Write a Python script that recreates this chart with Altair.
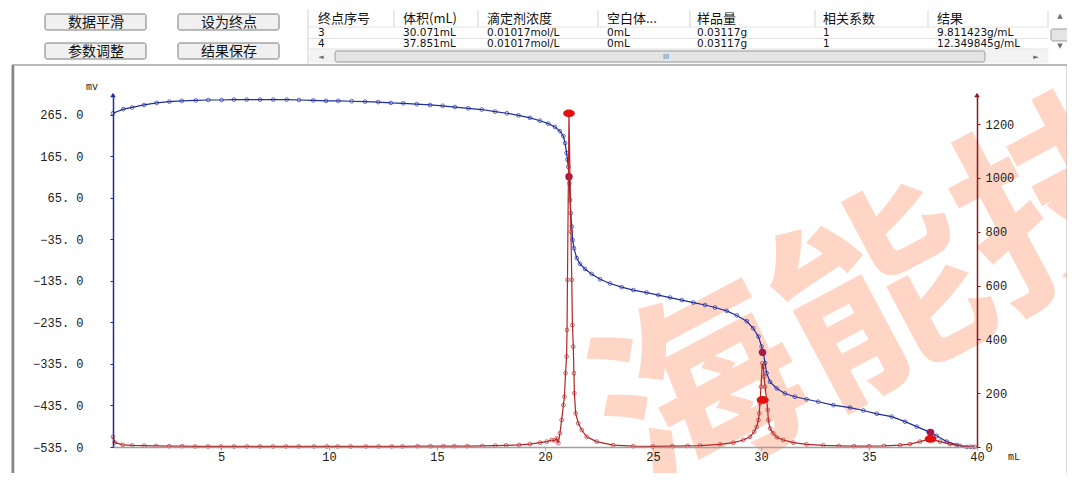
import altair as alt
import pandas as pd

# ---------------- data ----------------
blue_ml = [0.0, 0.48, 0.89, 1.44, 2.02, 2.61, 3.18, 3.83, 4.41, 5.03, 5.6, 6.19, 6.81, 7.42, 8.04,
           8.61, 9.27, 9.86, 10.43, 11.05, 11.67, 12.28, 12.86, 13.44, 14.06, 14.68, 15.26, 15.83,
           16.45, 17.07, 17.69, 18.23, 18.77, 19.31, 19.77, 20.15, 20.46, 20.69, 20.85, 20.93, 21.0,
           21.04, 21.08, 21.13, 21.16, 21.19, 21.24, 21.28, 21.34, 21.47, 21.62, 21.85, 22.16, 22.55,
           23.01, 23.55, 24.09, 24.7, 25.25, 25.79, 26.33, 26.87, 27.41, 27.87, 28.41, 28.88, 29.34,
           29.64, 29.88, 30.03, 30.11, 30.19, 30.26, 30.42, 30.73, 31.11, 31.57, 32.11, 32.65, 33.35,
           34.12, 34.74, 35.36, 36.05, 36.67, 37.21, 37.75, 38.13, 38.6, 39.06, 39.52, 39.8]
blue_mv = [269, 279, 283, 289, 294, 297, 299, 300, 301, 301, 302, 302, 302, 302, 302,
           301, 300, 299, 299, 298, 297, 296, 294, 293, 291, 289, 287, 284,
           281, 278, 273, 269, 264, 258, 251, 244, 236, 226, 214, 197, 173,
           157, 140, 100, 60, 28, -4, -36, -56, -80, -94, -106, -118, -131,
           -141, -150, -157, -163, -169, -175, -181, -187, -193, -199, -207, -218, -232,
           -249, -269, -293, -309, -333, -357, -378, -394, -406, -414, -420, -426, -434,
           -440, -447, -455, -462, -474, -486, -498, -508, -522, -530, -535, -535]

red_ml = [0.0, 0.08, 0.45, 0.9, 1.45, 2.0, 2.6, 3.2, 3.8, 4.4, 5.0, 5.6, 6.2, 6.8, 7.4, 8.0, 8.6,
          9.3, 9.9, 10.4, 11.0, 11.7, 12.3, 12.9, 13.4, 14.1, 14.7, 15.3, 15.8, 16.4, 17.1, 17.7,
          18.2, 18.8, 19.3, 19.77, 20.08, 20.31, 20.45, 20.54, 20.62, 20.69, 20.77, 20.85, 20.9,
          20.95, 21.0, 21.02, 21.04, 21.11, 21.2, 21.24, 21.27, 21.31, 21.34, 21.36, 21.42, 21.54,
          21.7, 21.93, 22.39, 23.16, 24.09, 25.0, 25.9, 26.6, 27.18, 28.1, 28.72, 29.18, 29.49,
          29.69, 29.8, 29.88, 29.92, 29.95, 30.0, 30.06, 30.11, 30.14, 30.19, 30.26, 30.31, 30.34,
          30.42, 30.57, 30.73, 31.03, 31.5, 32.11, 32.89, 33.6, 34.3, 35.0, 35.7, 36.44, 36.9,
          37.36, 37.82, 38.29, 38.75, 39.21, 39.68, 39.9]
red_val = [38, 17, 8, 6, 5, 4, 3, 3, 2, 2, 2, 2, 2, 2, 2, 2, 2,
           2, 2, 2, 2, 2, 2, 2, 2, 3, 3, 3, 3, 3, 4, 5,
           6, 8, 11, 16, 20, 26, 24, 32, 14, 51, 100, 156, 187,
           274, 336, 435, 621, 1240, 800, 621, 453, 373, 274, 200, 125, 88,
           63, 38, 20, 7, 3, 2, 3, 4, 5, 10, 16, 26, 38,
           57, 75, 100, 125, 162, 224, 311, 298, 261, 224, 175, 138, 100,
           69, 51, 36, 26, 16, 10, 6, 4, 3, 3, 4, 7, 11,
           20, 30, 20, 11, 5, 1, 0]

ep_ml = [21.11, 30.07, 37.85]
ep_mv = [116, -307, -500]
ep_deriv = [1240, 175, 30]

x_ticks = [5, 10, 15, 20, 25, 30, 35, 40]
mv_ticks = [-535, -435, -335, -235, -135, -35, 65, 165, 265]
d_ticks = [0, 200, 400, 600, 800, 1000, 1200]

buttons = ["数据平滑", "设为终点", "参数调整", "结果保存"]
table_header = ["终点序号", "体积(mL)", "滴定剂浓度", "空白体...", "样品量", "相关系数", "结果"]
table_row3 = ["3", "30.071mL", "0.01017mol/L", "0mL", "0.03117g", "1", "9.811423g/mL"]
table_row4 = ["4", "37.851mL", "0.01017mol/L", "0mL", "0.03117g", "1", "12.349845g/mL"]
watermark = "海能技"
unit_left = "mv"
unit_x = "mL"

# ---------------- layout ----------------
W, H = 864, 352
OX, OY = 113, 95          # page position of the plot origin


def X(v):
    return v - OX


def Y(v):
    return v - OY


BLUE = "#1f2d9e"
RED = "#b52525"
DARKRED = "#8b1a1a"
MONO = "Liberation Mono"
CJK = "Noto Sans CJK SC"

xs = alt.Scale(domain=[0, 40], nice=False, zero=False)
yl = alt.Scale(domain=[-535, 313], nice=False, zero=False)
yr = alt.Scale(domain=[0, 1308], nice=False, zero=False)

blue_df = pd.DataFrame({"ml": blue_ml, "mv": blue_mv})
red_df = pd.DataFrame({"ml": red_ml, "d": red_val})
ep_df = pd.DataFrame({"ml": ep_ml, "mv": ep_mv, "d": ep_deriv})
one = pd.DataFrame({"k": [0]})

common_axis = dict(title=None, grid=False, tickSize=3, labelFont=MONO, labelFontSize=12,
                   labelColor="#202020", labelFlush=False, labelOverlap=False, zindex=2)
x_axis = alt.Axis(values=x_ticks, format="d", domainColor="#a0a0a0", domainWidth=1.5,
                  tickColor="#a0a0a0", labelPadding=1, **common_axis)
yl_axis = alt.Axis(values=mv_ticks, orient="left", domainColor=BLUE, domainWidth=1.5,
                   tickColor=BLUE, labelPadding=27,
                   labelExpr="replace(format(datum.value, '.1f'), '.', '. ')", **common_axis)
yr_axis = alt.Axis(values=d_ticks, orient="right", domainColor=DARKRED, domainWidth=1.5,
                   tickColor=DARKRED, labelPadding=5, format="d", **common_axis)

# ---------------- potential curve (left axis) ----------------
blue_line = alt.Chart(blue_df).mark_line(color=BLUE, strokeWidth=1.2).encode(
    x=alt.X("ml:Q", scale=xs, axis=x_axis),
    y=alt.Y("mv:Q", scale=yl, axis=yl_axis),
)
blue_pts = alt.Chart(blue_df).mark_point(shape="circle", filled=False, size=14, color=BLUE,
                                         strokeWidth=1).encode(x="ml:Q", y="mv:Q")
blue_ep = alt.Chart(ep_df).mark_circle(size=55, color="#a8184a", opacity=1).encode(
    x="ml:Q", y="mv:Q")
left_arrow = alt.Chart(one).mark_point(shape="triangle-up", filled=True, size=30, color=BLUE,
                                       opacity=1).encode(x=alt.value(0), y=alt.value(0))
blue_group = alt.layer(blue_line, blue_pts, blue_ep, left_arrow)

# ---------------- derivative curve (right axis) ----------------
ellipse = "M-1.5,0 A1.5,1.0 0 1,0 1.5,0 A1.5,1.0 0 1,0 -1.5,0 Z"
red_line = alt.Chart(red_df).mark_line(color=RED, strokeWidth=1.2).encode(
    x="ml:Q",
    y=alt.Y("d:Q", scale=yr, axis=yr_axis),
)
red_pts = alt.Chart(red_df).mark_point(shape="circle", filled=False, size=14, color=RED,
                                       strokeWidth=1).encode(x="ml:Q", y="d:Q")
red_ep = alt.Chart(ep_df).mark_point(shape=ellipse, filled=True, size=60, color="#e31010",
                                     opacity=1).encode(x="ml:Q", y="d:Q")
right_arrow = alt.Chart(one).mark_point(shape="triangle-up", filled=True, size=30, color=DARKRED,
                                        opacity=1).encode(x=alt.value(W), y=alt.value(0))
red_group = alt.layer(red_line, red_pts, red_ep, right_arrow)

# ---------------- window decoration (pixel positions) ----------------
def px_enc(**kw):
    enc = {}
    for ch, f in kw.items():
        cls = {"x": alt.X, "y": alt.Y, "x2": alt.X2, "y2": alt.Y2}[ch]
        if ch in ("x", "y"):
            enc[ch] = cls(f + ":Q", scale=None, axis=None)
        else:
            enc[ch] = cls(f)
    return enc


wm_df = pd.DataFrame({"t": [watermark], "px": [X(885)], "py": [Y(305)]})
wm = alt.Chart(wm_df).mark_text(font=CJK, fontSize=205, fontWeight="bold", color="#ffd5c5",
                                angle=332, align="center", baseline="middle").encode(
    text="t:N", **px_enc(x="px", y="py"))

# rectangles
rects = []
rects.append(dict(x=X(310), y=Y(50), x2=X(1048), y2=Y(63), fill="#f3f3f3", stroke="#f3f3f3"))
rects.append(dict(x=X(335), y=Y(51), x2=X(985), y2=Y(62), fill="#e4e4e4", stroke="#9c9c9c"))
rects.append(dict(x=X(1051), y=Y(29), x2=X(1069), y2=Y(41), fill="#e4e4e4", stroke="#9c9c9c"))
bx = [45, 178]
by = [14, 43]
btn_txt = []
for i, b in enumerate(buttons):
    x1, y1 = bx[i % 2], by[i // 2]
    rects.append(dict(x=X(x1), y=Y(y1), x2=X(x1 + 101), y2=Y(y1 + 16), fill="#f0f0f0",
                      stroke="#7a7a7a"))
    btn_txt.append(dict(t=b, px=X(x1 + 51), py=Y(y1 + 8.5)))
rect_df = pd.DataFrame(rects)
rect_layer = alt.Chart(rect_df).mark_rect(cornerRadius=2, strokeWidth=1).encode(
    fill=alt.Fill("fill:N", scale=None), stroke=alt.Stroke("stroke:N", scale=None),
    **px_enc(x="x", y="y", x2="x2", y2="y2"))
frame = alt.Chart(pd.DataFrame([dict(x=X(12), y=Y(65), x2=X(1067), y2=Y(477))])).mark_rect(
    fill=None, stroke="#b5b5b5", strokeWidth=1).encode(**px_enc(x="x", y="y", x2="x2", y2="y2"))

# lines
lines = []
lines.append(dict(x=X(13), y=Y(65), x2=X(13), y2=Y(478), c="#858585", w=2.5))
lines.append(dict(x=X(12), y=Y(65), x2=X(1067), y2=Y(65), c="#9a9a9a", w=1))
for yy in [27, 38.5, 49]:
    lines.append(dict(x=X(308), y=Y(yy), x2=X(1048), y2=Y(yy), c="#e2e2e2", w=1))
for xx in [394, 478, 598, 690, 815, 928, 1048]:
    lines.append(dict(x=X(xx), y=Y(10), x2=X(xx), y2=Y(27), c="#d5d5d5", w=1))
lines.append(dict(x=X(308), y=Y(9), x2=X(308), y2=Y(64), c="#d0d0d0", w=1))
line_df = pd.DataFrame(lines)
line_layer = alt.Chart(line_df).mark_rule().encode(
    color=alt.Color("c:N", scale=None), strokeWidth=alt.StrokeWidth("w:Q", scale=None),
    **px_enc(x="x", y="y", x2="x2", y2="y2"))

btn_layer = alt.Chart(pd.DataFrame(btn_txt)).mark_text(
    font=CJK, fontSize=14, color="#111111", align="center", baseline="middle").encode(
    text="t:N", **px_enc(x="px", y="py"))

col_x = [318, 403, 487, 607, 697, 823, 937]
head = [dict(t=t, px=X(cx), py=Y(19)) for t, cx in zip(table_header, col_x)]
head_layer = alt.Chart(pd.DataFrame(head)).mark_text(
    font=CJK, fontSize=13, color="#111111", align="left", baseline="middle").encode(
    text="t:N", **px_enc(x="px", y="py"))
rows = [dict(t=t, px=X(cx), py=Y(33)) for t, cx in zip(table_row3, col_x)]
rows += [dict(t=t, px=X(cx), py=Y(44)) for t, cx in zip(table_row4, col_x)]
row_layer = alt.Chart(pd.DataFrame(rows)).mark_text(
    font="DejaVu Sans", fontSize=10.5, color="#111111", align="left", baseline="middle").encode(
    text="t:N", **px_enc(x="px", y="py"))

sym = [dict(t="◄", px=X(321), py=Y(57)), dict(t="►", px=X(1036), py=Y(57)),
       dict(t="▲", px=X(1060), py=Y(16)), dict(t="▼", px=X(1060), py=Y(46)),
       dict(t="III", px=X(666), py=Y(57))]
sym_layer = alt.Chart(pd.DataFrame(sym)).mark_text(
    font="DejaVu Sans", fontSize=7, color="#707070", align="center", baseline="middle").encode(
    text="t:N", **px_enc(x="px", y="py"))

units = [dict(t=unit_left, px=X(92), py=Y(87)), dict(t=unit_x, px=X(1014), py=Y(457))]
unit_layer = alt.Chart(pd.DataFrame(units)).mark_text(
    font=MONO, fontSize=10, color="#202020", align="center", baseline="middle").encode(
    text="t:N", **px_enc(x="px", y="py"))

chart = alt.layer(
    wm, blue_group, red_group, rect_layer, frame, line_layer, btn_layer, head_layer,
    row_layer, sym_layer, unit_layer,
).resolve_scale(y="independent").properties(
    width=W, height=H,
    autosize=alt.AutoSizeParams(type="none"),
    padding={"left": 105, "top": 87, "right": 90, "bottom": 26},
    background="white",
).configure_view(stroke=None)

chart.save("out.html", embed_options={"renderer": "svg", "actions": False})
